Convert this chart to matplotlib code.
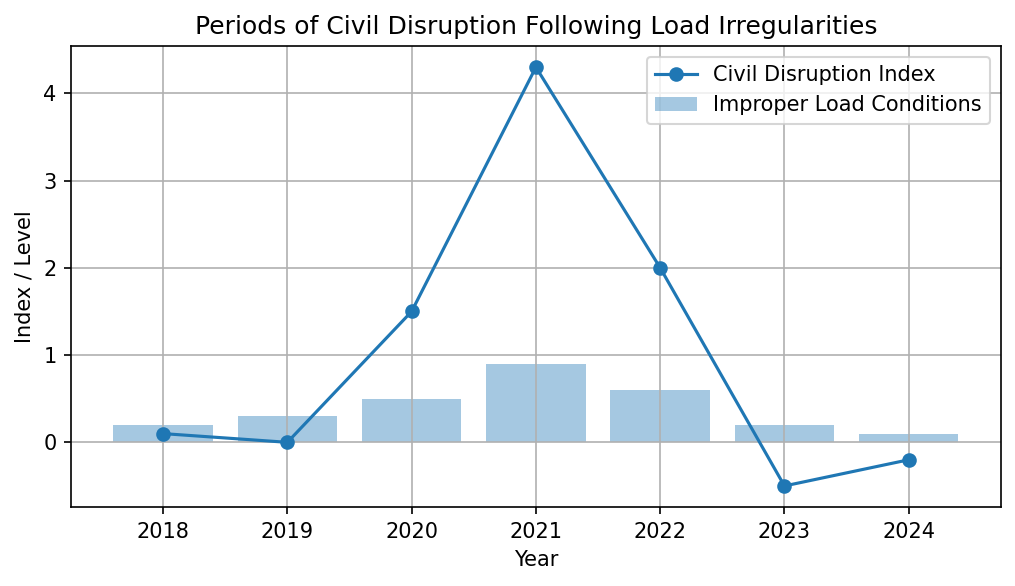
import matplotlib
matplotlib.use('Agg')
import matplotlib.pyplot as plt

# chart data
years = [2018, 2019, 2020, 2021, 2022, 2023, 2024]
disruption_index = [0.1, 0.0, 1.5, 4.3, 2.0, -0.5, -0.2]
load_conditions = [0.2, 0.3, 0.5, 0.9, 0.6, 0.2, 0.1]

fig, ax = plt.subplots(figsize=(6.773, 3.907), dpi=150)

# bars for improper load conditions, line for disruption index
ax.bar(years, load_conditions, width=0.8, color='C0', alpha=0.4,
       label='Improper Load Conditions')
ax.plot(years, disruption_index, marker='o', color='C0',
        label='Civil Disruption Index')

ax.set_title('Periods of Civil Disruption Following Load Irregularities')
ax.set_xlabel('Year')
ax.set_ylabel('Index / Level')
ax.set_xticks(years)
ax.grid(True)
ax.legend(loc='upper right')

fig.subplots_adjust(left=0.070, right=0.985, top=0.921, bottom=0.135)
fig.savefig('out.png')
